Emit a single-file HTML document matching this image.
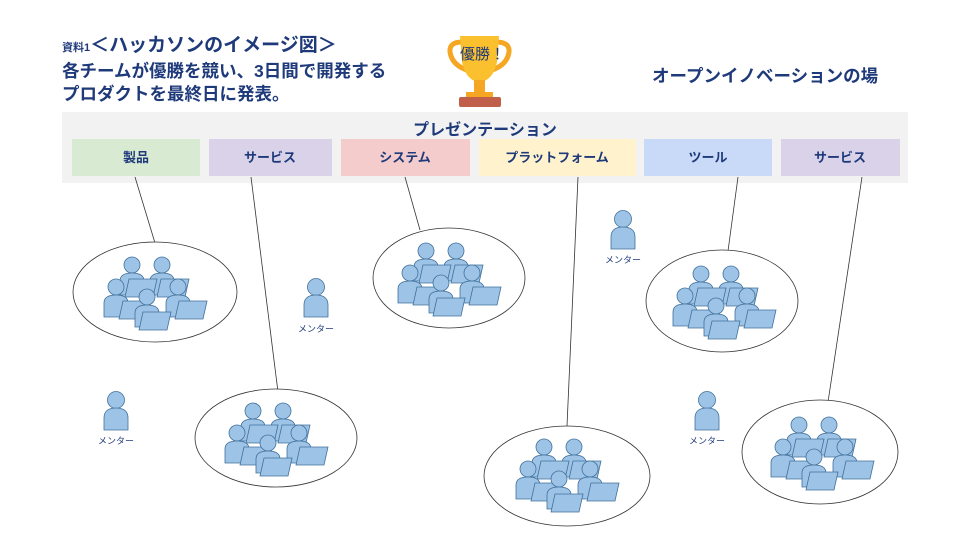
<!DOCTYPE html>
<html><head><meta charset="utf-8"><style>
body{margin:0;background:#fff;}
svg{display:block;}
.t{font-family:"Liberation Sans","Noto Sans CJK JP",sans-serif;font-weight:bold;fill:#1f3a7a;}
.m{font-family:"Liberation Sans","Noto Sans CJK JP",sans-serif;font-size:9px;fill:#1f3a7a;}
</style></head><body>
<svg width="960" height="540" viewBox="0 0 960 540" xmlns="http://www.w3.org/2000/svg">
<defs>
<g id="p"><circle cx="0" cy="0" r="8" fill="#9dc3e6" stroke="#41719c" stroke-width="0.8"/><path d="M-12,30 L-12,16 Q-12,8 0,8 Q12,8 12,16 L12,30 Z" fill="#9dc3e6" stroke="#41719c" stroke-width="0.8"/></g>
<g id="l"><path d="M4,0 L32,0 L28,18 L0,18 Z" fill="#9dc3e6" stroke="#41719c" stroke-width="0.8"/></g>
<g id="team">
<use href="#p" x="29" y="9"/><use href="#p" x="59" y="9"/>
<use href="#l" x="22" y="23"/><use href="#l" x="54" y="23"/>
<use href="#p" x="13" y="31"/><use href="#p" x="75" y="31"/>
<use href="#l" x="16" y="45"/><use href="#l" x="72" y="45"/>
<use href="#p" x="44" y="41"/>
<use href="#l" x="36" y="56"/>
</g>
<g id="mentor"><circle cx="0" cy="0" r="8.5" fill="#9dc3e6" stroke="#41719c" stroke-width="0.8"/><path d="M-12,30 L-12,18 Q-12,8 0,8 Q12,8 12,18 L12,30 Z" fill="#9dc3e6" stroke="#41719c" stroke-width="0.8"/></g>
</defs>

<text class="t" x="62" y="51" font-size="11">資料1<tspan font-size="19">＜ハッカソンのイメージ図＞</tspan></text>
<text class="t" x="62" y="77" font-size="17.5">各チームが優勝を競い、3日間で開発する</text>
<text class="t" x="62" y="100" font-size="17.5">プロダクトを最終日に発表。</text>
<text class="t" x="652" y="82" font-size="17.5">オープンイノベーションの場</text>

<!-- trophy -->
<path d="M462,42 Q449,42 450,52 Q452,66 470,71" fill="none" stroke="#f5a623" stroke-width="5"/>
<path d="M496,42 Q510,42 509,52 Q507,66 489,71" fill="none" stroke="#f5a623" stroke-width="5"/>
<path d="M460,36 L499,36 L497,62 Q494,78 482,82 L477,82 Q465,78 462,62 Z" fill="#fbc02d"/>
<rect x="474" y="80" width="11" height="14" fill="#f5a623"/>
<rect x="466" y="92" width="27" height="6" fill="#f5a623"/>
<rect x="459" y="97" width="42" height="10" rx="2" fill="#c0604a"/>
<text x="460" y="59" font-family="Liberation Sans,Noto Sans CJK JP,sans-serif" font-size="15" fill="#1f3a7a">優勝！</text>

<rect x="62" y="112" width="846" height="71" fill="#f2f2f2"/>
<text class="t" x="485" y="135" font-size="16" text-anchor="middle">プレゼンテーション</text>
<rect x="72" y="139" width="128" height="37" fill="#d9ead3"/>
<rect x="209" y="139" width="123" height="37" fill="#d9d2e9"/>
<rect x="341" y="139" width="129" height="37" fill="#f4cccc"/>
<rect x="479" y="139" width="157" height="37" fill="#fff2cc"/>
<rect x="644" y="139" width="128" height="37" fill="#c9daf8"/>
<rect x="781" y="139" width="119" height="37" fill="#d9d2e9"/>
<g class="t" font-size="13" text-anchor="middle">
<text x="136" y="162">製品</text><text x="270" y="162">サービス</text><text x="405" y="162">システム</text>
<text x="557" y="162">プラットフォーム</text><text x="708" y="162">ツール</text><text x="840" y="162">サービス</text>
</g>

<g stroke="#333" stroke-width="0.8">
<line x1="135" y1="177" x2="155" y2="243"/>
<line x1="251" y1="177" x2="278" y2="392"/>
<line x1="405" y1="177" x2="420" y2="230"/>
<line x1="578" y1="177" x2="567" y2="426"/>
<line x1="738" y1="177" x2="728" y2="251"/>
<line x1="862" y1="177" x2="828" y2="402"/>
</g>
<g fill="#fff" stroke="#333" stroke-width="0.8">
<ellipse cx="155" cy="292" rx="82" ry="50"/>
<ellipse cx="276" cy="438" rx="81" ry="49"/>
<ellipse cx="449" cy="278" rx="76" ry="50"/>
<ellipse cx="567" cy="476" rx="83" ry="50"/>
<ellipse cx="722" cy="301" rx="76" ry="51"/>
<ellipse cx="820" cy="452" rx="78" ry="52"/>
</g>
<use href="#team" x="103" y="256"/>
<use href="#team" x="224" y="402"/>
<use href="#team" x="397" y="242"/>
<use href="#team" x="515" y="438"/>
<use href="#team" x="672" y="265"/>
<use href="#team" x="770" y="416"/>

<use href="#mentor" x="316" y="287"/><text class="m" x="316" y="332" text-anchor="middle">メンター</text>
<use href="#mentor" x="623" y="219"/><text class="m" x="623" y="263" text-anchor="middle">メンター</text>
<use href="#mentor" x="116" y="400"/><text class="m" x="116" y="444" text-anchor="middle">メンター</text>
<use href="#mentor" x="707" y="400"/><text class="m" x="707" y="444" text-anchor="middle">メンター</text>
</svg>
</body></html>
